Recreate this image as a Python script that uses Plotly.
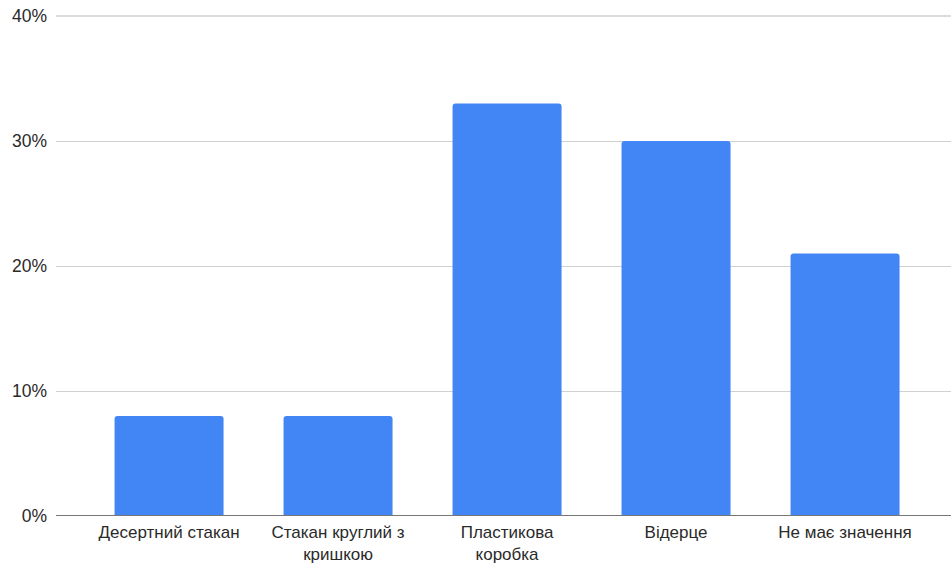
import plotly.graph_objects as go

categories = ["Десертний стакан", "Стакан круглий з<br>кришкою", "Пластикова<br>коробка", "Відерце", "Не має значення"]
values = [8, 8, 33, 30, 21]
y_ticks = [0, 10, 20, 30, 40]
y_tick_labels = ["0%", "10%", "20%", "30%", "40%"]

fig = go.Figure(go.Bar(
    x=list(range(len(categories))),
    y=values,
    marker=dict(color="#4285F4", line=dict(width=0), cornerradius=3),
    width=0.645,
))

fig.update_layout(
    width=951, height=567,
    margin=dict(l=56, r=0, t=15, b=51, autoexpand=False),
    paper_bgcolor="white", plot_bgcolor="white",
    font=dict(family="Liberation Sans, Arial, sans-serif", size=17.5, color="#2a2a2a"),
    showlegend=False,
    xaxis=dict(
        range=[-0.669, 4.627],
        tickmode="array", tickvals=list(range(len(categories))), ticktext=categories,
        showgrid=False, zeroline=False, showline=False, ticks="",
        ticklabelstandoff=4, automargin=False,
        tickfont=dict(size=17, color="#2a2a2a"),
    ),
    yaxis=dict(
        range=[0, 40.08],
        tickmode="array", tickvals=y_ticks, ticktext=y_tick_labels,
        showgrid=True, gridcolor="#d0d0d0", gridwidth=1,
        zeroline=False, showline=False, ticks="",
        ticklabelstandoff=8, automargin=False,
        tickfont=dict(size=17.5, color="#2a2a2a"),
    ),
)

fig.add_shape(type="line", xref="paper", yref="y", x0=0, x1=1, y0=y_ticks[-1], y1=y_ticks[-1],
              line=dict(color="#d0d0d0", width=1.5), layer="below")
fig.add_shape(type="line", xref="paper", yref="y", x0=0, x1=1, y0=0, y1=0,
              line=dict(color="#777777", width=2), layer="above")

fig.write_html("out.html")
